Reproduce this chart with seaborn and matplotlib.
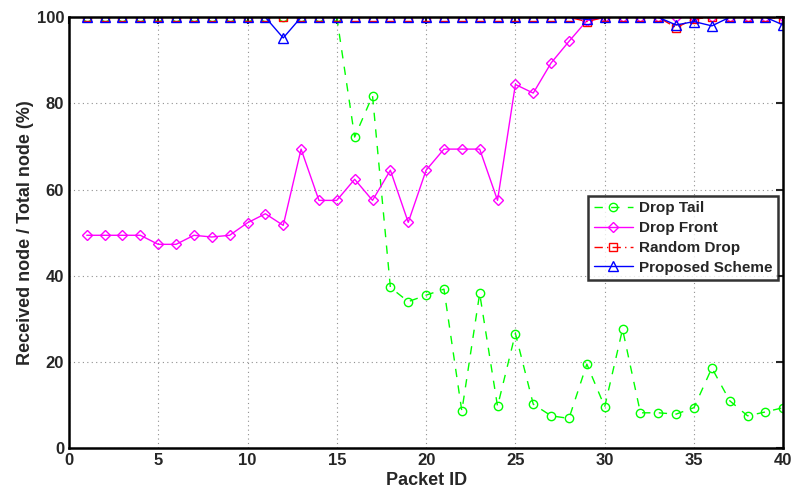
import numpy as np
import pandas as pd
import matplotlib.pyplot as plt
import seaborn as sns

sns.set_style("white")
plt.rcParams["font.family"] = ["Liberation Sans", "DejaVu Sans"]
plt.rcParams["font.weight"] = "bold"

packet_id = list(range(1, 41))

drop_tail = [100] * 15 + [72.2, 81.8, 37.3, 34.0, 35.5, 36.9, 8.6, 35.9, 9.7, 26.6,
                          10.2, 7.5, 6.9, 19.5, 9.6, 27.6, 8.2, 8.2, 7.9, 9.4,
                          18.6, 11.0, 7.5, 8.4, 9.4]
drop_front = [49.4, 49.4, 49.4, 49.4, 47.3, 47.3, 49.4, 49.0, 49.4, 52.3,
              54.4, 51.7, 69.4, 57.5, 57.5, 62.4, 57.5, 64.5, 52.4, 64.5,
              69.4, 69.4, 69.4, 57.5, 84.4, 82.4, 89.4, 94.4, 99.2, 100,
              100, 100, 100, 100, 100, 100, 100, 100, 100, 100]
random_drop = [100] * 28 + [99.0, 100, 100, 100, 100, 97.6, 99.6, 100, 100, 100, 100, 99.6]
proposed = [100] * 11 + [95.2] + [100] * 16 + [99.5, 100, 100, 100, 100, 98.2, 99.0,
                                               98.0, 100, 100, 100, 98.2]

series = [
    ("Drop Tail", drop_tail, "#00ff00", "o", (0, (6, 6)), 6),
    ("Drop Front", drop_front, "#ff00ff", "D", "-", 5.5),
    ("Random Drop", random_drop, "#ff0000", "s", (0, (6, 3, 1, 3)), 5.5),
    ("Proposed Scheme", proposed, "#0000ff", "^", "-", 6.5),
]

fig = plt.figure(figsize=(7.92, 4.93), dpi=100)
ax = fig.add_axes([0.087, 0.091, 0.902, 0.874])

for name, vals, color, mk, ls, ms in series:
    df = pd.DataFrame({"x": packet_id, "y": vals})
    sns.lineplot(data=df, x="x", y="y", ax=ax, color=color, linestyle=ls, lw=1,
                 marker=mk, markersize=ms, markerfacecolor="none",
                 markeredgecolor=color, markeredgewidth=1, label=name)

ax.set_xlim(0, 40)
ax.set_ylim(0, 100)
ax.set_xticks(range(0, 41, 5))
ax.set_yticks(range(0, 101, 20))
ax.grid(True, color="#909090", linestyle=(0, (1, 3)), linewidth=0.8)
ax.tick_params(direction="in", top=True, right=True, length=5, width=1.5,
               labelsize=12)
for lab in ax.get_xticklabels() + ax.get_yticklabels():
    lab.set_fontweight("bold")
for sp in ax.spines.values():
    sp.set_linewidth(1.8)
    sp.set_color("black")

ax.set_xlabel("Packet ID", fontsize=13, fontweight="bold", labelpad=3)
ax.set_ylabel("Received node / Total node (%)", fontsize=13, fontweight="bold", labelpad=2)

leg = ax.legend(loc="upper left", bbox_to_anchor=(0.727, 0.585), frameon=True,
                fancybox=False, edgecolor="black", fontsize=11, handlelength=2.6,
                borderpad=0.35, labelspacing=0.38, handletextpad=0.4, borderaxespad=0)
leg.get_frame().set_linewidth(1.8)
for t in leg.get_texts():
    t.set_fontweight("bold")

fig.savefig("out.png", dpi=100)
